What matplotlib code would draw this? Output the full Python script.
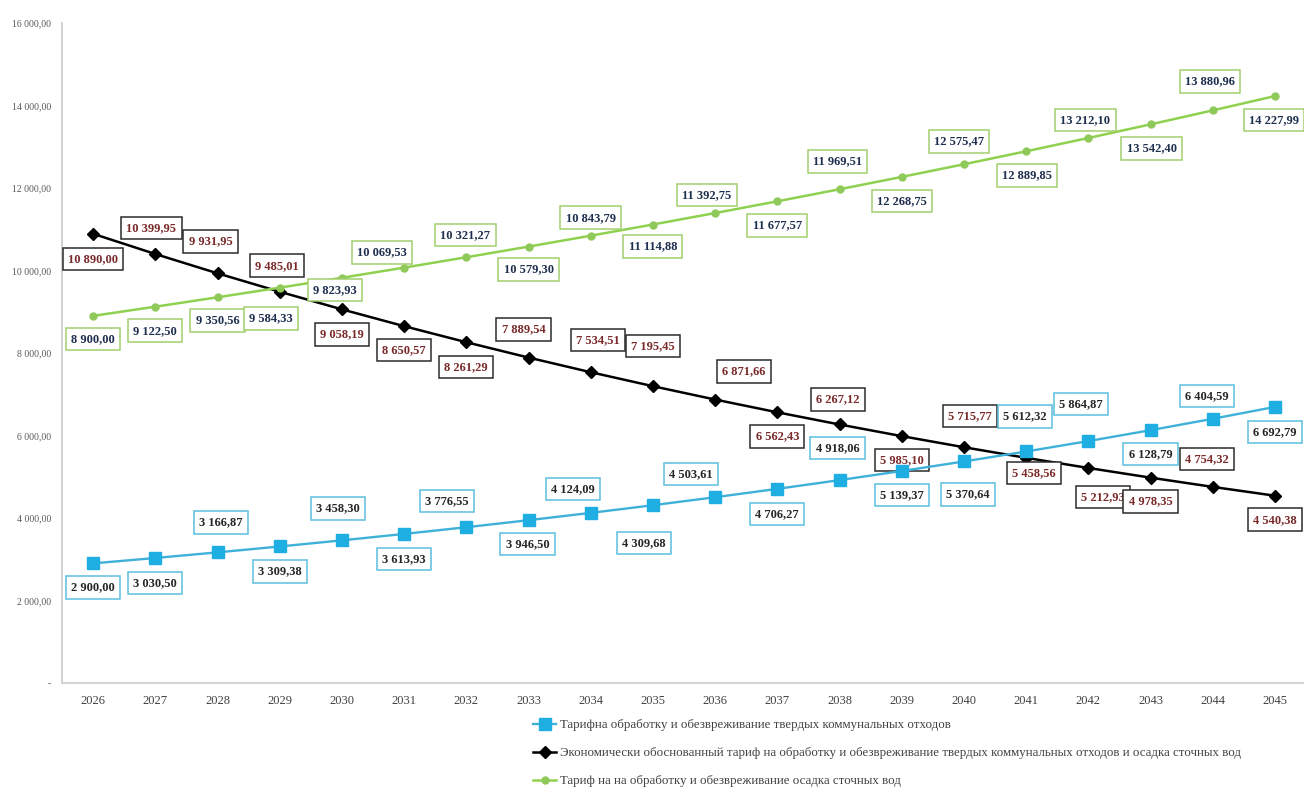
import matplotlib
matplotlib.use("Agg")
import matplotlib.pyplot as plt
from matplotlib.ticker import FuncFormatter, MultipleLocator

plt.rcParams["font.family"] = ["Liberation Serif", "DejaVu Serif"]

# data
years = list(range(2026, 2046))
tariff_tko = [2900.00, 3030.50, 3166.87, 3309.38, 3458.30, 3613.93, 3776.55, 3946.50,
              4124.09, 4309.68, 4503.61, 4706.27, 4918.06, 5139.37, 5370.64, 5612.32,
              5864.87, 6128.79, 6404.59, 6692.79]
tariff_econ = [10890.00, 10399.95, 9931.95, 9485.01, 9058.19, 8650.57, 8261.29, 7889.54,
               7534.51, 7195.45, 6871.66, 6562.43, 6267.12, 5985.10, 5715.77, 5458.56,
               5212.93, 4978.35, 4754.32, 4540.38]
tariff_sludge = [8900.00, 9122.50, 9350.56, 9584.33, 9823.93, 10069.53, 10321.27, 10579.30,
                 10843.79, 11114.88, 11392.75, 11677.57, 11969.51, 12268.75, 12575.47,
                 12889.85, 13212.10, 13542.40, 13880.96, 14227.99]

labels = [
    "Тарифна обработку и обезвреживание твердых коммунальных отходов",
    "Экономически обоснованный тариф на обработку и обезвреживание твердых коммунальных отходов и осадка сточных вод",
    "Тариф на на обработку и обезвреживание осадка сточных вод",
]

# data label offsets in pixels (dx, dy downward), as placed in the original
off_tko = [(0, 24), (0, 25), (3, -30), (0, 25), (-4, -32), (0, 25), (-19, -26), (-1, 24),
           (-18, -24), (-9, 38), (-24, -23), (0, 25), (-2, -32), (0, 24), (4, 33),
           (-1, -35), (-7, -37), (0, 24), (-6, -23), (0, 25)]
off_econ = [(0, 25), (-4, -26), (-7, -32), (-3, -26), (0, 25), (0, 24), (0, 25), (-5, -28),
            (7, -32), (0, -40), (29, -28), (0, 24), (-2, -25), (0, 24), (6, -31), (8, 15),
            (15, 29), (0, 24), (-6, -28), (0, 24)]
off_sludge = [(0, 23), (0, 24), (0, 23), (-9, 31), (-7, 12), (-22, -15), (-1, -22), (0, 23),
              (0, -18), (0, 22), (-8, -18), (0, 24), (-2, -28), (0, 24), (-5, -23), (1, 24),
              (-3, -18), (1, 24), (-3, -29), (-1, 24)]


def fmt_ru(v):
    return f"{v:,.2f}".replace(",", " ").replace(".", ",")


fig = plt.figure(figsize=(13.04, 7.91), dpi=100)
ax = fig.add_axes([62 / 1304, 1 - 683 / 791, 1244 / 1304, 660 / 791])

x = list(range(len(years)))

series = [
    (tariff_tko, "#3fb1d9", "#1eaee2", "s", 8, 1.7, off_tko, "#262626", "#5bbfdf", 5),
    (tariff_econ, "#000000", "#000000", "D", 6.5, 1.8, off_econ, "#7a2a2a", "#2b2b2b", 3),
    (tariff_sludge, "#8fd14f", "#8fc95a", "o", 5, 1.8, off_sludge, "#1f2f4f", "#a3cf6e", 7),
]

handles = []
for vals, lc, mc, mk, ms, lw, offs, tc, bc, z in series:
    (h,) = ax.plot(x, vals, color=lc, lw=lw, marker=mk, ms=ms, mfc=mc, mec=mc, zorder=z)
    handles.append(h)
    for xi, v, (dx, dy) in zip(x, vals, offs):
        ax.annotate(
            fmt_ru(v), (xi, v), xytext=(dx * 0.72, -dy * 0.72), textcoords="offset points",
            ha="center", va="center", fontsize=9, fontweight="bold", color=tc,
            bbox=dict(boxstyle="square,pad=0.42", fc="white", ec=bc, lw=1.1),
            zorder=z + 1,
        )

ax.set_xlim(-0.5, len(years) - 0.5)
ax.set_ylim(0, 16000)
ax.yaxis.set_major_locator(MultipleLocator(2000))
ax.yaxis.set_major_formatter(FuncFormatter(lambda v, p: "-" if v == 0 else fmt_ru(v)))
ax.set_xticks(x)
ax.set_xticklabels([str(y) for y in years])

ax.tick_params(axis="y", length=0, pad=8, labelsize=7, labelcolor="#595959")
ax.tick_params(axis="x", length=0, pad=9, labelsize=9, labelcolor="#404040")
for s in ["top", "right"]:
    ax.spines[s].set_visible(False)
ax.spines["left"].set_color("#c8c8c8")
ax.spines["bottom"].set_color("#d4d4d4")
ax.spines["left"].set_linewidth(1.2)
ax.spines["bottom"].set_linewidth(1.6)

fig.legend(
    handles, labels, loc="upper left", bbox_to_anchor=(533 / 1304, 1 - 719 / 791),
    frameon=False, fontsize=9.3, labelspacing=1.25, handlelength=1.8, handletextpad=0.3,
    borderpad=0, borderaxespad=0, labelcolor="#404040",
)

fig.savefig("out.png", dpi=100)
